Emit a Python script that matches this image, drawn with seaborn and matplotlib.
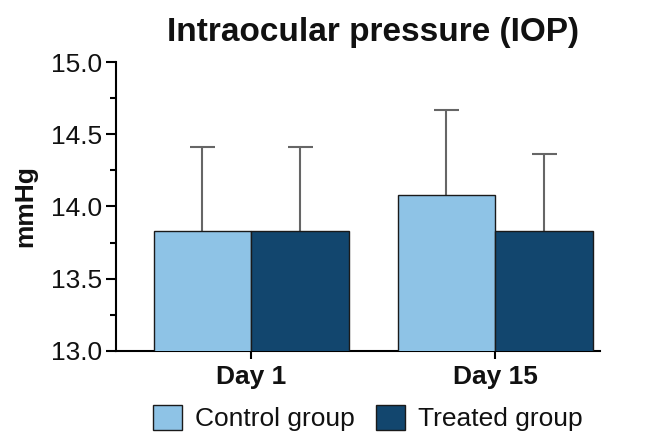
import matplotlib
matplotlib.use("Agg")
import matplotlib.pyplot as plt
import seaborn as sns
import pandas as pd
import numpy as np
from matplotlib.ticker import MultipleLocator, FormatStrFormatter

days = ["Day 1", "Day 15"]
groups = ["Control group", "Treated group"]
control_mean = [13.83, 14.08]
treated_mean = [13.83, 13.83]
control_sd = [0.58, 0.59]
treated_sd = [0.58, 0.53]
colors = ["#8EC3E6", "#12466E"]

df = pd.DataFrame({
    "day": days * 2,
    "group": [groups[0]] * 2 + [groups[1]] * 2,
    "mean": control_mean + treated_mean,
    "sd": control_sd + treated_sd,
})

sns.set_style("ticks")
plt.rcParams["font.family"] = ["Liberation Sans", "DejaVu Sans"]
plt.rcParams["text.color"] = "#111111"
plt.rcParams["axes.labelcolor"] = "#111111"
plt.rcParams["xtick.labelcolor"] = "#111111"
plt.rcParams["ytick.labelcolor"] = "#111111"

fig = plt.figure(figsize=(6.46, 4.37), dpi=100)
ax = fig.add_axes([0.18, 0.197, 0.749, 0.661])

sns.barplot(data=df, x="day", y="mean", hue="group", palette=colors,
            order=days, hue_order=groups, width=0.8, errorbar=None,
            saturation=1, edgecolor="#1a1a1a", linewidth=1.0, ax=ax, zorder=3)

# upper error bars from bar geometry
for gi, g in enumerate(groups):
    sub = df[df["group"] == g].set_index("day").loc[days]
    for di, d in enumerate(days):
        p = ax.containers[gi][di]
        xc = p.get_x() + p.get_width() / 2
        _, caps, _ = ax.errorbar(xc, sub.loc[d, "mean"],
                                 yerr=[[0], [sub.loc[d, "sd"]]],
                                 fmt="none", ecolor="#666666", elinewidth=1.5,
                                 capsize=9, capthick=1.5, zorder=2)
        if len(caps) == 2:
            caps[0].set_visible(False)

ax.set_ylim(13.0, 15.0)
ax.set_xlim(-0.553, 1.43)
ax.yaxis.set_major_locator(MultipleLocator(0.5))
ax.yaxis.set_minor_locator(MultipleLocator(0.25))
ax.yaxis.set_major_formatter(FormatStrFormatter("%.1f"))

ax.set_title("Intraocular pressure (IOP)", fontsize=24, fontweight="bold",
             pad=15, x=0.53, color="#111111")
ax.set_ylabel("mmHg", fontsize=19, fontweight="bold", labelpad=10)
ax.set_xlabel("")

for lbl in ax.get_xticklabels():
    lbl.set_fontweight("bold")
ax.tick_params(axis="x", labelsize=19, length=6, width=1.5, color="black", pad=4)
ax.tick_params(axis="y", which="major", labelsize=19, length=7, width=1.5,
               color="black", pad=3)
ax.tick_params(axis="y", which="minor", length=4, width=1.5, color="black")

sns.despine(ax=ax)
for s in ["left", "bottom"]:
    ax.spines[s].set_linewidth(1.5)
    ax.spines[s].set_color("black")

leg = ax.legend(loc="center", bbox_to_anchor=(0.52, -0.232), ncol=2,
                frameon=False, fontsize=19, handlelength=1.1, handleheight=1.1,
                columnspacing=0.8, handletextpad=0.5, borderpad=0)

fig.savefig("out.png", dpi=100)
